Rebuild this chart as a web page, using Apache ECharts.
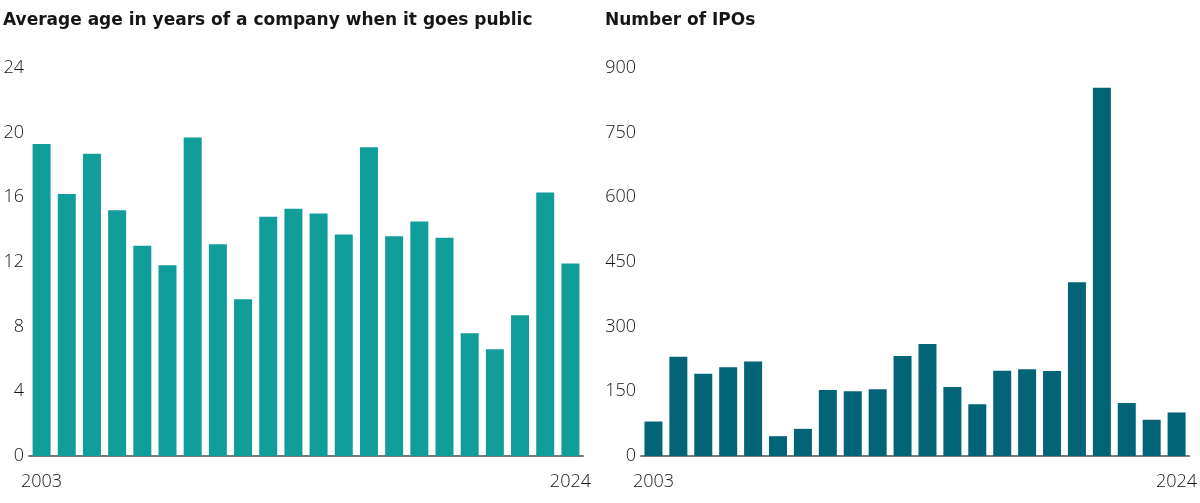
<!DOCTYPE html>
<html>
<head>
<meta charset="utf-8">
<script src="https://cdn.jsdelivr.net/npm/echarts@6/dist/echarts.min.js"></script>
<style>
  html,body{margin:0;padding:0;background:#fff;}
  #chart{width:1200px;height:503px;}
</style>
</head>
<body>
<div id="chart"></div>
<script>
(function(){
  var YEARS = ['2003','2004','2005','2006','2007','2008','2009','2010','2011','2012','2013',
               '2014','2015','2016','2017','2018','2019','2020','2021','2022','2023','2024'];
  // average age (years) at IPO
  var AGE = [19.3,16.2,18.7,15.2,13.0,11.8,19.7,13.1,9.7,14.8,15.3,
             15.0,13.7,19.1,13.6,14.5,13.5,7.6,6.6,8.7,16.3,11.9];
  // number of IPOs
  var IPOS = [80,230,191,206,219,46,63,153,150,155,232,
              260,160,120,198,201,197,403,854,123,84,101];

  var FONT = '"Open Sans", "Noto Sans", sans-serif';
  var HEAD = '"DejaVu Sans", "Open Sans", sans-serif';
  var TXT = '#141414';

  var chart = echarts.init(document.getElementById('chart'), null, {renderer:'canvas'});

  function xAx(gi){
    return {
      type:'category', gridIndex:gi, data:YEARS,
      axisTick:{show:false},
      axisLine:{lineStyle:{color:'#7a7a7a', width:2}},
      axisLabel:{
        color:TXT, fontFamily:FONT, fontSize:18, fontWeight:300, margin:17,
        interval:function(i){ return i===0 || i===YEARS.length-1; }
      }
    };
  }
  function yAx(gi, max, step){
    return {
      type:'value', gridIndex:gi, min:0, max:max, interval:step,
      splitLine:{show:false}, axisLine:{show:false}, axisTick:{show:false},
      axisLabel:{color:TXT, fontFamily:FONT, fontSize:18, fontWeight:300, margin:5}
    };
  }

  chart.setOption({
    animation:false,
    title:[
      { text:'Average age in years of a company when it goes public', left:3, top:12, padding:0,
        textStyle:{color:'#161616', fontFamily:HEAD, fontSize:17, fontWeight:'bold'} },
      { text:'Number of IPOs', left:605, top:12, padding:0,
        textStyle:{color:'#161616', fontFamily:HEAD, fontSize:17, fontWeight:'bold'} }
    ],
    grid:[
      { left:29, right:617, top:68, bottom:47 },
      { left:641, right:5, top:68, bottom:47 }
    ],
    xAxis:[ xAx(0), xAx(1) ],
    yAxis:[ yAx(0, 24, 4), yAx(1, 900, 150) ],
    series:[
      { type:'bar', xAxisIndex:0, yAxisIndex:0, data:AGE, barWidth:18,
        itemStyle:{color:'#119e9a'} },
      { type:'bar', xAxisIndex:1, yAxisIndex:1, data:IPOS, barWidth:18,
        itemStyle:{color:'#036477'} }
    ]
  });

  window.addEventListener('resize', function(){ chart.resize(); });
})();
</script>
</body>
</html>
